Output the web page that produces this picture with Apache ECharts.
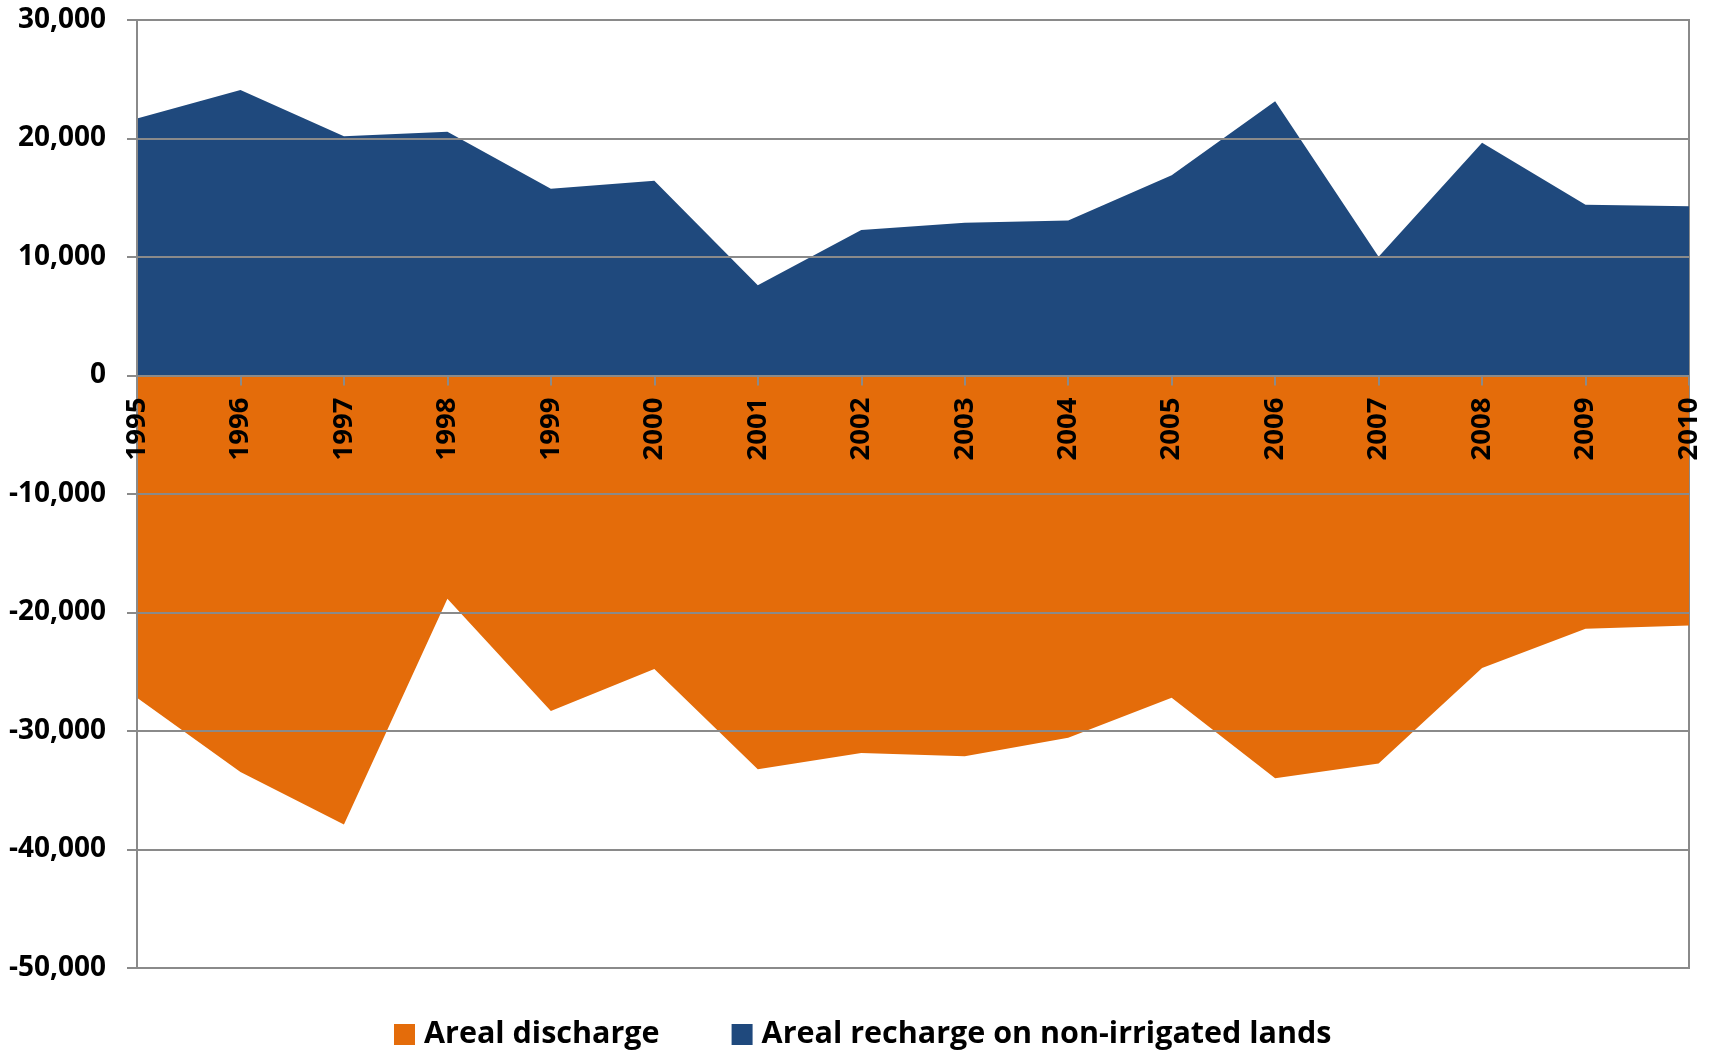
<!DOCTYPE html>
<html>
<head>
<meta charset="utf-8">
<script src="https://cdn.jsdelivr.net/npm/echarts@6/dist/echarts.min.js"></script>
<style>
  html, body { margin: 0; padding: 0; background: #ffffff; }
  #chart { width: 1713px; height: 1052px; }
</style>
</head>
<body>
<div id="chart"></div>
<script>
const years = ['1995','1996','1997','1998','1999','2000','2001','2002','2003','2004','2005','2006','2007','2008','2009','2010'];
const arealDischarge = [-27200, -33450, -37900, -18850, -28320, -24760, -33220, -31850, -32130, -30560, -27200, -33980, -32750, -24680, -21370, -21090];
const arealRecharge = [21680, 24090, 20200, 20560, 15770, 16440, 7620, 12270, 12890, 13080, 16890, 23140, 10030, 19640, 14400, 14290];
const seriesNames = ['Areal discharge', 'Areal recharge on non-irrigated lands'];
const yMin = -50000, yMax = 30000, yStep = 10000;

const gridColor = '#8a8a8a';
const fontFam = '"Open Sans", "Liberation Sans", sans-serif';
const gridTop = 20, gridBottom = 84, chartH = 1052;
const plotH = chartH - gridTop - gridBottom;
// move the category axis (line, ticks, labels) up to the zero line
const zeroOffset = -plotH * (0 - yMin) / (yMax - yMin);

const chart = echarts.init(document.getElementById('chart'), null, { renderer: 'canvas' });
chart.setOption({
  animation: false,
  backgroundColor: '#ffffff',
  grid: {
    left: 137, right: 24, top: gridTop, bottom: gridBottom,
    show: true, borderColor: gridColor, borderWidth: 2, backgroundColor: 'transparent'
  },
  legend: {
    data: seriesNames,
    left: 389,
    top: 1014,
    itemWidth: 21,
    itemHeight: 21,
    itemGap: 72,
    icon: 'rect',
    textStyle: { fontFamily: fontFam, fontWeight: 'bold', fontSize: 30.5, color: '#000', padding: [0, 0, 0, 4] }
  },
  xAxis: {
    type: 'category',
    data: years,
    boundaryGap: false,
    position: 'bottom',
    offset: zeroOffset,
    z: 10,
    axisLine: { onZero: false, lineStyle: { color: gridColor, width: 2 } },
    axisTick: { show: true, length: 10, lineStyle: { color: gridColor, width: 2 } },
    axisLabel: {
      rotate: 90, margin: 22, interval: 0,
      fontFamily: fontFam, fontWeight: 'bold', fontSize: 27.5, color: '#000'
    },
    splitLine: { show: false }
  },
  yAxis: {
    type: 'value',
    min: yMin, max: yMax, interval: yStep,
    z: 10,
    axisLine: { show: true, lineStyle: { color: gridColor, width: 2 } },
    axisTick: { show: true, length: 10, lineStyle: { color: gridColor, width: 2 } },
    axisLabel: {
      margin: 31,
      fontFamily: fontFam, fontWeight: 'bold', fontSize: 28, color: '#000',
      formatter: v => v.toLocaleString('en-US')
    },
    splitLine: { show: true, lineStyle: { color: gridColor, width: 2 } }
  },
  series: [
    {
      name: seriesNames[0],
      type: 'line',
      data: arealDischarge,
      symbol: 'none',
      itemStyle: { color: '#E46C0A' },
      lineStyle: { width: 0, color: '#E46C0A' },
      areaStyle: { color: '#E46C0A', opacity: 1, origin: 0 }
    },
    {
      name: seriesNames[1],
      type: 'line',
      data: arealRecharge,
      symbol: 'none',
      itemStyle: { color: '#1F497D' },
      lineStyle: { width: 0, color: '#1F497D' },
      areaStyle: { color: '#1F497D', opacity: 1, origin: 0 }
    }
  ]
});
</script>
</body>
</html>
